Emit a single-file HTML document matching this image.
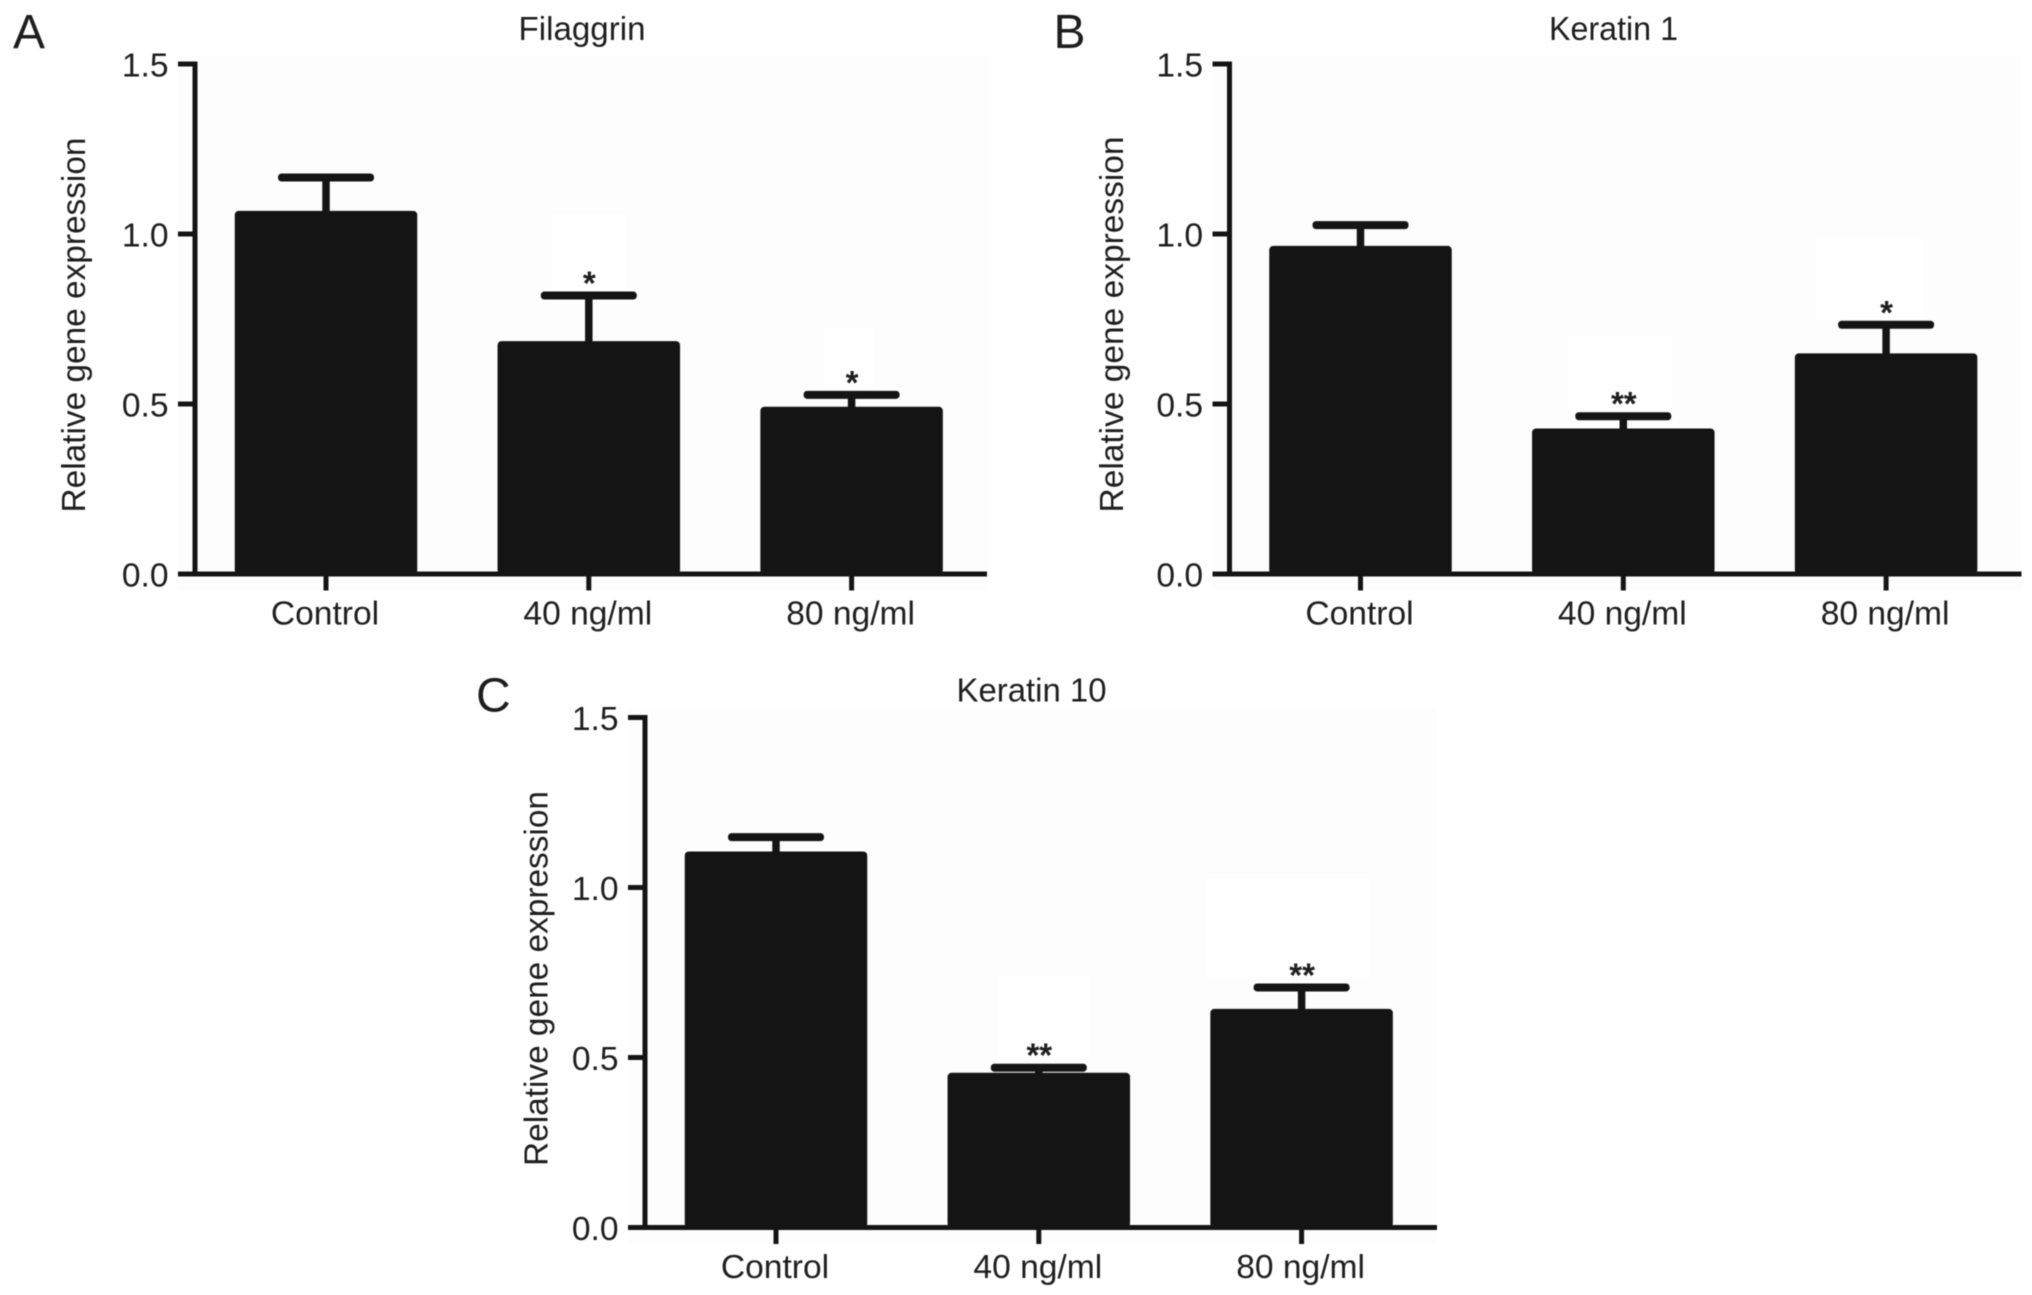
<!DOCTYPE html>
<html lang="en">
<head>
<meta charset="utf-8">
<title>Relative gene expression</title>
<style>
html,body{margin:0;padding:0;background:#fff;width:2032px;height:1295px;overflow:hidden}
svg{display:block;filter:blur(0.5px)}
text{font-family:"Liberation Sans",sans-serif;fill:#1e1e1e}
</style>
</head>
<body>
<svg id="figure" xmlns="http://www.w3.org/2000/svg" width="2032" height="1295" viewBox="0 0 2032 1295">
  <g id="panel-a" transform="translate(0,0)">
    <rect x="178" y="55" width="809" height="535" fill="#fdfdfd"/>
    <text x="13" y="48" font-size="48">A</text>
    <text x="582" y="40" font-size="33" text-anchor="middle" textLength="127" lengthAdjust="spacingAndGlyphs">Filaggrin</text>
    <text transform="translate(85,325) rotate(-90)" font-size="33" text-anchor="middle" textLength="375" lengthAdjust="spacingAndGlyphs">Relative gene expression</text>
  </g>
  <g id="panel-b" transform="translate(1034.5,0)">
    <rect x="178" y="55" width="809" height="535" fill="#fdfdfd"/>
    <text x="19" y="48" font-size="48">B</text>
    <text x="579" y="40" font-size="33" text-anchor="middle" textLength="129" lengthAdjust="spacingAndGlyphs">Keratin 1</text>
    <text transform="translate(88.5,324.5) rotate(-90)" font-size="33" text-anchor="middle" textLength="376" lengthAdjust="spacingAndGlyphs">Relative gene expression</text>
  </g>
  <g id="panel-c" transform="translate(450,653.5)">
    <rect x="178" y="55" width="809" height="535" fill="#fdfdfd"/>
    <text x="26" y="58" font-size="48">C</text>
    <text x="581.5" y="48" font-size="33" text-anchor="middle" textLength="150" lengthAdjust="spacingAndGlyphs">Keratin 10</text>
    <text transform="translate(97.5,325) rotate(-90)" font-size="33" text-anchor="middle" textLength="375" lengthAdjust="spacingAndGlyphs">Relative gene expression</text>
  </g>
</svg>
<script>
const categories = ['Control', '40 ng/ml', '80 ng/ml'];
const yTicks = [0, 0.5, 1, 1.5];
const yTickLabels = ['0.0', '0.5', '1.0', '1.5'];

const filaggrinValues = [1.068, 0.685, 0.492];
const filaggrinErrorTops = [1.166, 0.819, 0.527];
const filaggrinStars = ['', '*', '*'];

const keratin1Values = [0.965, 0.428, 0.649];
const keratin1ErrorTops = [1.026, 0.464, 0.733];
const keratin1Stars = ['', '**', '*'];

const keratin10Values = [1.106, 0.455, 0.643];
const keratin10ErrorTops = [1.148, 0.47, 0.706];
const keratin10Stars = ['', '**', '**'];

const SVG_NS = 'http://www.w3.org/2000/svg';
const INK = '#141414';
const axisX = 195;
const axisTickLeft = 178;
const axisRight = 987;
const y0 = 574;
const pxPerUnit = 340;
const firstCenter = 326;
const bandStep = 262.8;
const barWidth = 182.5;
const capWidth = 96;

function yScale(v) { return y0 - v * pxPerUnit; }
function xScale(i) { return firstCenter + i * bandStep; }

function make(parent, tag, attrs, text) {
  const node = document.createElementNS(SVG_NS, tag);
  for (const key in attrs) node.setAttribute(key, attrs[key]);
  if (text !== undefined) node.textContent = text;
  parent.appendChild(node);
  return node;
}

function drawPanel(panelId, values, errorTops, stars, whitePatches) {
  const g = document.getElementById(panelId);

  whitePatches.forEach(function (p) {
    const patch = make(g, 'rect', { x: p[0], y: p[1], width: p[2], height: p[3], fill: '#ffffff' });
    
    
  });

  categories.forEach(function (cat, i) {
    const cx = xScale(i);
    const top = yScale(values[i]);
    const capY = yScale(errorTops[i]);

    const stem = make(g, 'line', { x1: cx, x2: cx, y1: capY, y2: top + 2, stroke: INK, 'stroke-width': 7.5 });
    
    

    const cap = make(g, 'rect', { x: cx - capWidth / 2, y: capY - 4, width: capWidth, height: 8, rx: 3.5, fill: INK });
    
    

    const bar = make(g, 'rect', { x: cx - barWidth / 2, y: top, width: barWidth, height: y0 - top, rx: 4, fill: INK });
    
    

    if (stars[i]) {
      const star = make(g, 'text', { x: cx + 0.5, y: capY - 1, 'font-size': 33, 'font-weight': 'bold', 'text-anchor': 'middle' }, stars[i]);
      
      
    }

    const tick = make(g, 'line', { x1: cx, x2: cx, y1: y0, y2: 590.5, stroke: INK, 'stroke-width': 5 });
    
    

    const label = make(g, 'text', { x: cx - 1, y: 624.5, 'font-size': 33.6, 'text-anchor': 'middle' }, cat);
    
    
  });

  yTicks.forEach(function (v, i) {
    const y = yScale(v);
    const tick = make(g, 'line', { x1: axisTickLeft, x2: axisX, y1: y, y2: y, stroke: INK, 'stroke-width': 5 });
    
    

    const label = make(g, 'text', { x: 168.5, y: y + 12.5, 'font-size': 33.6, 'text-anchor': 'end' }, yTickLabels[i]);
    
    
  });

  const yAxis = make(g, 'line', { x1: axisX, x2: axisX, y1: yScale(1.5) - 2.5, y2: y0 + 2.5, stroke: INK, 'stroke-width': 5 });
  
  

  const xAxis = make(g, 'line', { x1: axisTickLeft, x2: axisRight, y1: y0, y2: y0, stroke: INK, 'stroke-width': 5 });
  
  
}

drawPanel('panel-a', filaggrinValues, filaggrinErrorTops, filaggrinStars,
  [[553, 214, 73, 76], [825, 328, 49, 58]]);
drawPanel('panel-b', keratin1Values, keratin1ErrorTops, keratin1Stars,
  [[534, 336, 103, 76], [782, 239, 106, 80]]);
drawPanel('panel-c', keratin10Values, keratin10ErrorTops, keratin10Stars,
  [[549, 322, 90, 85], [757, 225, 162, 101]]);
</script>
</body>
</html>
